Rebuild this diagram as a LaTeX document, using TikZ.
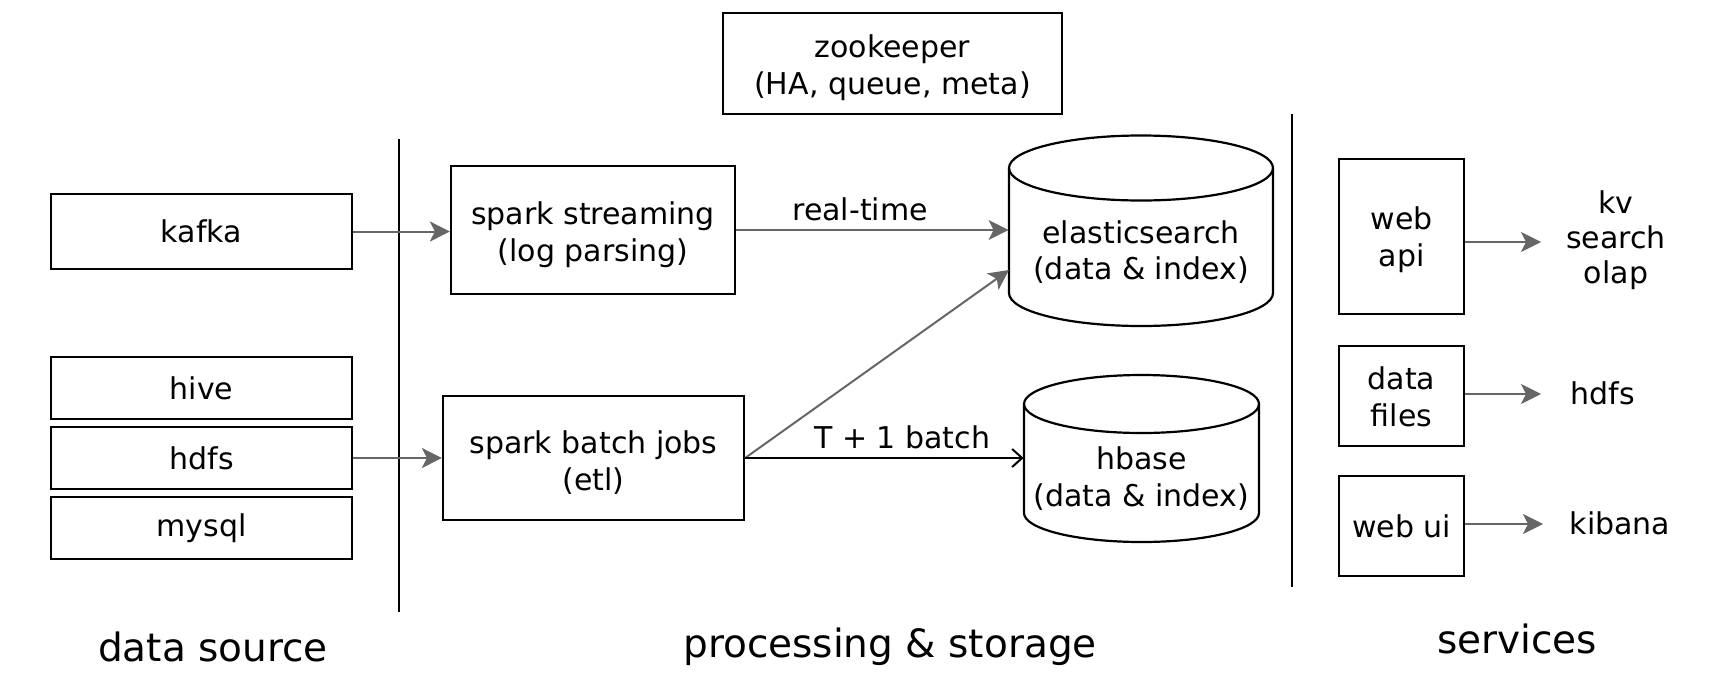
\documentclass[tikz,border=0pt]{standalone}
\usepackage{fontspec}
\setmainfont{DejaVu Sans}
\usetikzlibrary{arrows.meta}
\definecolor{arrgray}{HTML}{666666}
\begin{document}
\begin{tikzpicture}[x=0.5pt,y=-0.5pt,
  every node/.style={font=\fontsize{15}{18.4}\selectfont, align=center, inner sep=0pt},
  box/.style={draw, line width=1.1pt, rectangle},
  garrow/.style={draw=arrgray, line width=1pt, -{Stealth[length=10pt,width=10pt,inset=2.5pt]}, arrgray},
  barrow/.style={draw=black, line width=1pt, -{Straight Barb[length=5pt,width=9pt]}},
  sep/.style={line width=1.1pt},
  cyl/.style={line width=1.1pt},
  section/.style={font=\fontsize{19.5}{23}\selectfont}
]
\useasboundingbox (0,0) rectangle (1734,686);

% data sources
\node[box, minimum width=150.5pt, minimum height=37.5pt] (kafka) at (201.5,231.5) {kafka};
\node[box, minimum width=150.5pt, minimum height=31pt] (hive) at (201.5,388) {hive};
\node[box, minimum width=150.5pt, minimum height=31pt] (hdfs) at (201.5,458) {hdfs};
\node[box, minimum width=150.5pt, minimum height=31pt] (mysql) at (201.5,528) {mysql};

% separators
\coordinate (s1a) at (399,139); \coordinate (s1b) at (399,612);
\coordinate (s2a) at (1292,114); \coordinate (s2b) at (1292,587);
\draw[sep] (s1a) -- (s1b);
\draw[sep] (s2a) -- (s2b);

% zookeeper
\node[box, minimum width=169.5pt, minimum height=50.5pt] (zk) at (892.5,63.5) {};
\node (zkT) at (892.5,67.5) {zookeeper\\(HA, queue, meta)};

% processing
\node[box, minimum width=142pt, minimum height=64pt] (stream) at (593,230) {};
\node (streamT) at (593,235) {spark streaming\\(log parsing)};
\node[box, minimum width=150.5pt, minimum height=62pt] (batch) at (593.5,458) {};
\node (batchT) at (593.5,462.5) {spark batch jobs\\(etl)};

% elasticsearch cylinder
\draw[cyl] (1141,168) ellipse[x radius=132, y radius=32.5];
\draw[cyl] (1009,168) -- (1009,293) arc[start angle=180, end angle=0, x radius=132, y radius=33] -- (1273,168);
\node[minimum width=132pt, minimum height=62pt] (es) at (1141,252) {elasticsearch\\(data \& index)};

% hbase cylinder
\draw[cyl] (1141.5,404) ellipse[x radius=117.5, y radius=29];
\draw[cyl] (1024,404) -- (1024,513) arc[start angle=180, end angle=0, x radius=117.5, y radius=29] -- (1259,404);
\node[minimum width=117.5pt, minimum height=54pt] (hbase) at (1141.5,478.5) {hbase\\(data \& index)};

% services
\node[box, minimum width=62.5pt, minimum height=77.5pt] (api) at (1401.5,236.5) {};
\node (apiT) at (1401.5,240) {web\\api};
\node[box, minimum width=62.5pt, minimum height=50pt] (files) at (1401.5,396) {};
\node (filesT) at (1401.5,396.5) {data\\files};
\node[box, minimum width=62.5pt, minimum height=50pt] (ui) at (1401.5,526) {web ui};

\node[font=\fontsize{15}{17.5}\selectfont] (kv) at (1616,240) {kv\\search\\olap};
\node (hdfsout) at (1603,393) {hdfs};
\node (kibana) at (1620,523) {kibana};

\coordinate (apiend) at (1541,242);
\coordinate (filesend) at (1541,394);
\coordinate (uiend) at (1543,524);

% connectors
\draw[garrow] (kafka.east) -- (stream.west |- kafka.east);
\draw[garrow] (hdfs.east) -- (batch.west |- hdfs.east);
\draw[garrow] (stream.east) -- node[pos=0.455, above=4pt, text=black] (rtl) {real-time} (es.west |- stream.east);
\draw[garrow] (batch.east) -- (1009,270);
\draw[barrow] (batch.east) -- node[pos=0.564, above=4pt] (t1l) {T + 1 batch} (hbase.west |- batch.east);
\draw[garrow] (api.east |- apiend) -- (apiend);
\draw[garrow] (files.east |- filesend) -- (filesend);
\draw[garrow] (ui.east |- uiend) -- (uiend);

% section labels
\node[section] (lds) at (213,647) {data source};
\node[section] (lps) at (890,647) {processing \& storage};
\node[section] (lsv) at (1517,639) {services};
\end{tikzpicture}
\end{document}
